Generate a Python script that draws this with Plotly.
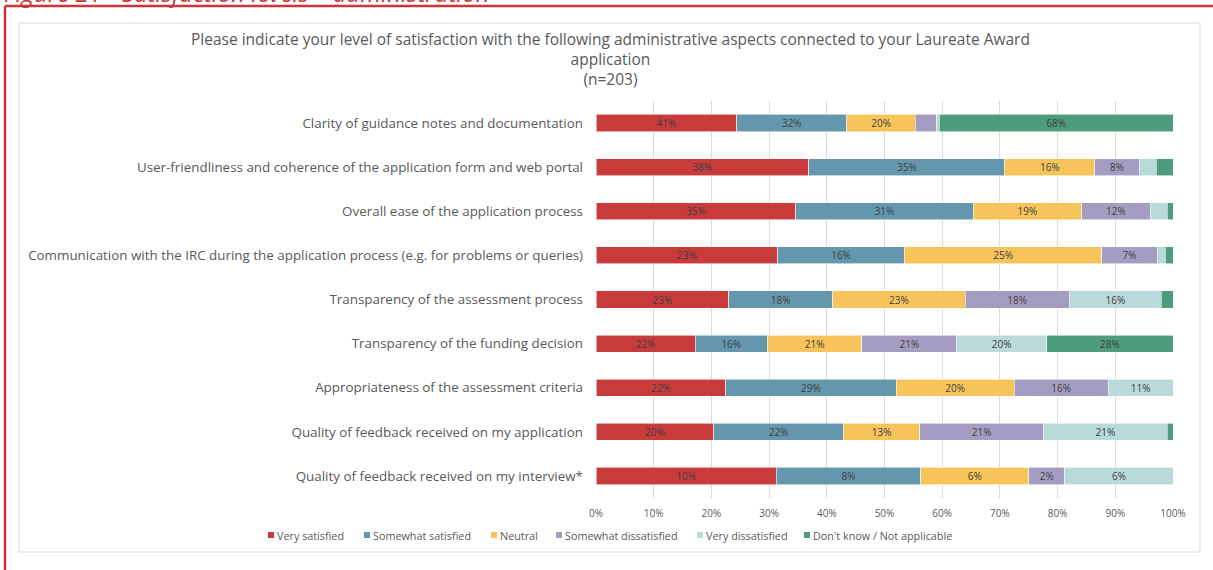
import plotly.graph_objects as go

# ---- data -------------------------------------------------------------
categories = [
    "Clarity of guidance notes and documentation",
    "User-friendliness and coherence of the application form and web portal",
    "Overall ease of the application process",
    "Communication with the IRC during the application process (e.g. for problems or queries)",
    "Transparency of the assessment process",
    "Transparency of the funding decision",
    "Appropriateness of the assessment criteria",
    "Quality of feedback received on my application",
    "Quality of feedback received on my interview*",
]
series_names = [
    "Very satisfied",
    "Somewhat satisfied",
    "Neutral",
    "Somewhat dissatisfied",
    "Very dissatisfied",
    "Don't know / Not applicable",
]
very_satisfied = [41, 38, 35, 23, 23, 22, 22, 20, 10]
somewhat_satisfied = [32, 35, 31, 16, 18, 16, 29, 22, 8]
neutral = [20, 16, 19, 25, 23, 21, 20, 13, 6]
somewhat_dissatisfied = [6, 8, 12, 7, 18, 21, 16, 21, 2]
very_dissatisfied = [1, 3, 3, 1, 16, 20, 11, 21, 6]
dont_know = [68, 3, 1, 1, 2, 28, 0, 1, 0]
x_tick_values = [0, 10, 20, 30, 40, 50, 60, 70, 80, 90, 100]
x_tick_labels = [f"{v}%" for v in x_tick_values]
title_lines = [
    "Please indicate your level of satisfaction with the following administrative aspects connected to your Laureate Award",
    "application",
    "(n=203)",
]
caption = "Figure 21 - Satisfaction levels – administration"

series_values = [very_satisfied, somewhat_satisfied, neutral,
                 somewhat_dissatisfied, very_dissatisfied, dont_know]

# ---- styling ------------------------------------------------------------
colors = ["#C93B3B", "#6497AE", "#F7C45B", "#A59DC1", "#BAD9DA", "#4D9C7C"]
FONT = "Open Sans"
GREY_TEXT = "#595959"
LABEL_TEXT = "#404040"
RED = "#C8373B"

W, H = 1213, 570
PLOT_L, PLOT_R, PLOT_T, PLOT_B = 596, 1173, 101, 498


def px_x(px):
    return (px - PLOT_L) / (PLOT_R - PLOT_L)


def px_y(py):
    return (PLOT_B - py) / (PLOT_B - PLOT_T)


row_totals = [sum(col) for col in zip(*series_values)]

fig = go.Figure()
for name, vals, color in zip(series_names, series_values, colors):
    # segments narrower than ~5% of the row carry no label
    labels = [f"{v}%" if v / t >= 0.05 else "" for v, t in zip(vals, row_totals)]
    fig.add_trace(go.Bar(
        y=categories,
        x=vals,
        name=name,
        orientation="h",
        marker=dict(color=color, line=dict(color="rgba(255,255,255,0.7)", width=0.8)),
        text=labels,
        texttemplate="%{text}",
        textposition="inside",
        insidetextanchor="middle",
        constraintext="none",
        textangle=0,
        textfont=dict(family=FONT, size=10, color=LABEL_TEXT),
        showlegend=False,
        hoverinfo="skip",
    ))

fig.update_layout(
    barmode="stack",
    barnorm="percent",
    bargap=0.61,
    width=W,
    height=H,
    margin=dict(l=PLOT_L, r=W - PLOT_R, t=PLOT_T, b=H - PLOT_B, pad=0),
    paper_bgcolor="white",
    plot_bgcolor="white",
    font=dict(family=FONT, color=GREY_TEXT),
)

fig.update_xaxes(
    range=[0, 100],
    tickvals=x_tick_values,
    ticktext=x_tick_labels,
    showgrid=True,
    gridcolor="#D9D9D9",
    gridwidth=1,
    zeroline=False,
    showline=False,
    ticks="",
    ticklabelstandoff=8,
    tickfont=dict(family=FONT, size=10, color=GREY_TEXT),
)
fig.update_yaxes(
    autorange="reversed",
    showgrid=False,
    ticks="",
    ticklabelstandoff=12,
    tickfont=dict(family=FONT, size=13.4, color=GREY_TEXT),
)

shapes = []
# chart frame
shapes.append(dict(type="rect", xref="paper", yref="paper", layer="below",
                   x0=px_x(19), x1=px_x(1200), y0=px_y(552), y1=px_y(23),
                   line=dict(color="#D9D9D9", width=1), fillcolor="white"))

annotations = []
# figure caption (sits mostly above the visible page)
annotations.append(dict(
    text=caption,
    xref="paper", yref="paper", x=px_x(2), y=px_y(11),
    xanchor="left", yanchor="bottom", showarrow=False,
    font=dict(family=FONT, size=24, color=RED, style="italic"),
))
# chart title
annotations.append(dict(
    text="<br>".join(title_lines),
    xref="paper", yref="paper", x=px_x(610), y=px_y(59),
    xanchor="center", yanchor="middle", align="center", showarrow=False,
    font=dict(family=FONT, size=15.5, color=GREY_TEXT),
))

# legend: small squares with names
legend_px = [271, 367, 494, 559, 700, 807]
legend_y = 535
for name, color, lx in zip(series_names, colors, legend_px):
    shapes.append(dict(type="rect", xref="paper", yref="paper",
                       x0=px_x(lx - 3), x1=px_x(lx + 3),
                       y0=px_y(legend_y + 3), y1=px_y(legend_y - 3),
                       line=dict(width=0), fillcolor=color))
    annotations.append(dict(
        text=name, xref="paper", yref="paper",
        x=px_x(lx + 4), y=px_y(legend_y),
        xanchor="left", yanchor="middle", showarrow=False,
        font=dict(family=FONT, size=10.8, color=GREY_TEXT),
    ))

# figure border (top and left edges), drawn over the caption
shapes.append(dict(type="line", xref="paper", yref="paper",
                   x0=px_x(5), x1=px_x(W + 5), y0=px_y(6), y1=px_y(6),
                   line=dict(color=RED, width=2.5)))
shapes.append(dict(type="line", xref="paper", yref="paper",
                   x0=px_x(5), x1=px_x(5), y0=px_y(6), y1=px_y(H + 5),
                   line=dict(color=RED, width=2.5)))

fig.update_layout(shapes=shapes, annotations=annotations)

fig.write_html("out.html")
